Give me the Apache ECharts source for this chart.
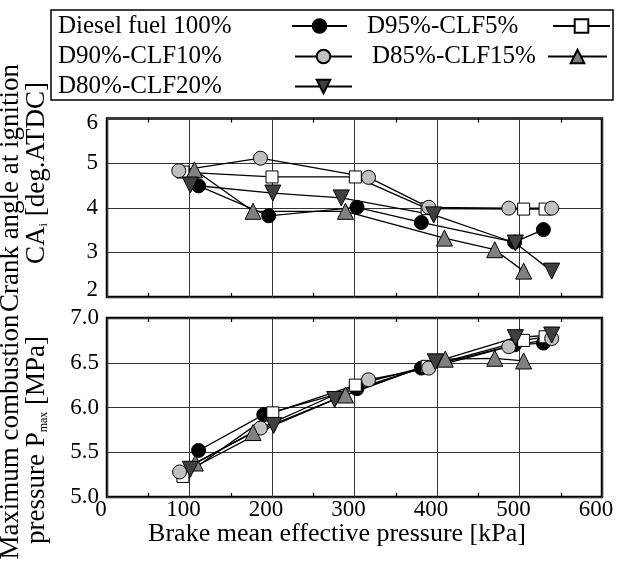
<!DOCTYPE html>
<html>
<head>
<meta charset="utf-8">
<script src="https://cdn.jsdelivr.net/npm/echarts@6/dist/echarts.min.js"></script>
<style>
  html, body { margin: 0; padding: 0; background: #fff; }
  #chart { width: 617px; height: 563px; }
</style>
</head>
<body>
<div id="chart"></div>
<script>
// data
var names = ['Diesel fuel 100%', 'D95%-CLF5%', 'D90%-CLF10%', 'D85%-CLF15%', 'D80%-CLF20%'];

// crank angle at ignition (top plot)
var caX_diesel = [111, 196, 303, 381, 494, 529];
var caY_diesel = [4.49, 3.82, 4.01, 3.67, 3.23, 3.51];
var caX_d95 = [92, 200, 301, 388, 505, 531];
var caY_d95 = [4.80, 4.69, 4.69, 3.98, 3.97, 3.97];
var caX_d90 = [87, 186, 317, 390, 487, 539];
var caY_d90 = [4.83, 5.11, 4.68, 4.01, 3.99, 3.99];
var caX_d85 = [106, 177, 289, 409, 470, 505];
var caY_d85 = [4.85, 3.92, 3.92, 3.32, 3.06, 2.58];
var caX_d80 = [101, 201, 284, 396, 495, 539];
var caY_d80 = [4.51, 4.33, 4.22, 3.84, 3.21, 2.58];

// maximum combustion pressure (bottom plot)
var pX_diesel = [111, 190, 303, 381, 494, 529];
var pY_diesel = [5.52, 5.92, 6.21, 6.44, 6.70, 6.72];
var pX_d95 = [92, 201, 301, 388, 505, 531];
var pY_d95 = [5.23, 5.94, 6.25, 6.46, 6.75, 6.79];
var pX_d90 = [88, 186, 317, 390, 487, 539];
var pY_d90 = [5.28, 5.77, 6.31, 6.44, 6.68, 6.77];
var pX_d85 = [107, 177, 289, 410, 470, 505];
var pY_d85 = [5.38, 5.72, 6.14, 6.54, 6.55, 6.52];
var pX_d80 = [101, 202, 276, 398, 495, 539];
var pY_d80 = [5.31, 5.80, 6.09, 6.51, 6.78, 6.81];

var xTicks = [0, 100, 200, 300, 400, 500, 600];

var FONT = '"Liberation Serif", "DejaVu Serif", serif';

// marker styles per fuel
var marks = [
  { symbol: 'circle', size: 14, fill: '#000000', rotate: 0 },
  { symbol: 'rect', size: 12, fill: '#ffffff', rotate: 0 },
  { symbol: 'circle', size: 14, fill: '#c0c0c0', rotate: 0 },
  { symbol: 'triangle', size: 16, fill: '#808080', rotate: 0 },
  { symbol: 'triangle', size: 16, fill: '#404040', rotate: 180 }
];

function pairs(xs, ys) {
  var out = [];
  for (var i = 0; i < xs.length; i++) out.push([xs[i], ys[i]]);
  return out;
}

var topData = [pairs(caX_diesel, caY_diesel), pairs(caX_d95, caY_d95), pairs(caX_d90, caY_d90),
               pairs(caX_d85, caY_d85), pairs(caX_d80, caY_d80)];
var botData = [pairs(pX_diesel, pY_diesel), pairs(pX_d95, pY_d95), pairs(pX_d90, pY_d90),
               pairs(pX_d85, pY_d85), pairs(pX_d80, pY_d80)];

var seriesArr = [];
function addSeries(list, xi, yi) {
  for (var k = 0; k < list.length; k++) {
    var m = marks[k];
    seriesArr.push({
      name: names[k],
      type: 'line',
      xAxisIndex: xi,
      yAxisIndex: yi,
      data: list[k],
      symbol: m.symbol,
      symbolSize: m.size,
      symbolRotate: m.rotate,
      lineStyle: { color: '#000', width: 1.3 },
      itemStyle: { color: m.fill, borderColor: '#000', borderWidth: 1 },
      emphasis: { disabled: true }
    });
  }
}
addSeries(topData, 0, 0);
addSeries(botData, 2, 1);

function xAxisDef(grid, pos, showLabel) {
  return {
    type: 'value', gridIndex: grid, position: pos,
    min: xTicks[0], max: xTicks[xTicks.length - 1], interval: 100,
    axisLine: { show: false },
    axisTick: { show: false, inside: true },
    minorTick: { show: true, splitNumber: 2, length: 4, lineStyle: { color: '#000', width: 1.2 } },
    splitLine: { show: pos === 'bottom', lineStyle: { color: '#333', width: 1 } },
    axisLabel: {
      show: showLabel, color: '#000', fontFamily: FONT, fontSize: 23, margin: 1,
      padding: [0, 12, 0, 0]
    }
  };
}

// legend: one component per entry so the columns can be placed like the figure
var legendSpots = [
  { left: 58, top: 12, w: 229, iw: 55 },
  { left: 367, top: 12, w: 181, iw: 57 },
  { left: 58, top: 42.5, w: 232, iw: 57 },
  { left: 372, top: 42.5, w: 171, iw: 59 },
  { left: 58, top: 72.5, w: 232, iw: 57 }
];
var legends = legendSpots.map(function (s, i) {
  return {
    data: [names[i]], left: s.left, top: s.top, padding: 0,
    align: 'right', selectedMode: false,
    itemWidth: s.iw, itemHeight: 17,
    formatter: '{a|{name}}',
    textStyle: {
      color: '#000', fontFamily: FONT, fontSize: 25,
      rich: { a: { width: s.w, align: 'left', color: '#000', fontFamily: FONT, fontSize: 25, lineHeight: 28, height: 28 } }
    }
  };
});

var titleStyle = { fill: '#000', fontFamily: FONT, fontSize: 27, align: 'center', verticalAlign: 'middle' };
function vText(x, y, text, rich) {
  var st = Object.assign({}, titleStyle, { text: text });
  if (rich) st.rich = rich;
  return { type: 'text', x: x, y: y, rotation: Math.PI / 2, style: st, silent: true };
}
var subRich = {
  s: { fontFamily: FONT, fontSize: 12, fill: '#000', padding: [13, 0, 0, 0] }
};

var option = {
  animation: false,
  backgroundColor: '#fff',
  legend: legends,
  grid: [
    { left: 107, right: 15, top: 118.5, height: 178.5, show: true, borderColor: '#000', borderWidth: 2.5 },
    { left: 107, right: 15, top: 318, height: 179, show: true, borderColor: '#000', borderWidth: 2.5 }
  ],
  xAxis: [
    xAxisDef(0, 'bottom', false),
    xAxisDef(0, 'top', false),
    xAxisDef(1, 'bottom', true),
    xAxisDef(1, 'top', false)
  ],
  yAxis: [
    {
      type: 'value', gridIndex: 0, min: 2, max: 6, interval: 1,
      axisLine: { show: false }, axisTick: { show: false },
      splitLine: { lineStyle: { color: '#333', width: 1 } },
      axisLabel: {
        color: '#000', fontFamily: FONT, fontSize: 23, margin: 9,
        formatter: function (v) {
          if (v === 6) return '{t|6}';
          if (v === 2) return '{b|2}';
          return String(v);
        },
        rich: {
          t: { fontFamily: FONT, fontSize: 23, color: '#000', padding: [9, 0, 0, 0] },
          b: { fontFamily: FONT, fontSize: 23, color: '#000', padding: [0, 0, 14, 0] }
        }
      }
    },
    {
      type: 'value', gridIndex: 1, min: 5, max: 7, interval: 0.5,
      axisLine: { show: false }, axisTick: { show: false },
      splitLine: { lineStyle: { color: '#333', width: 1 } },
      axisLabel: {
        color: '#000', fontFamily: FONT, fontSize: 23, margin: 8,
        formatter: function (v) { return v.toFixed(1); }
      }
    }
  ],
  graphic: [
    { type: 'rect', shape: { x: 51, y: 10, width: 562, height: 90 },
      style: { fill: 'none', stroke: '#000', lineWidth: 1.5 }, silent: true },
    vText(11, 188, 'Crank angle at ignition'),
    vText(37, 173, 'CA{s|i} [deg.ATDC]', subRich),
    vText(11, 437, 'Maximum combustion'),
    vText(37, 440, 'pressure P{s|max} [MPa]', subRich),
    { type: 'text', x: 337, y: 534, silent: true,
      style: Object.assign({}, titleStyle, { text: 'Brake mean effective pressure [kPa]', fontSize: 26 }) }
  ],
  series: seriesArr
};

var chart = echarts.init(document.getElementById('chart'), null, { renderer: 'canvas' });
chart.setOption(option);
</script>
</body>
</html>
